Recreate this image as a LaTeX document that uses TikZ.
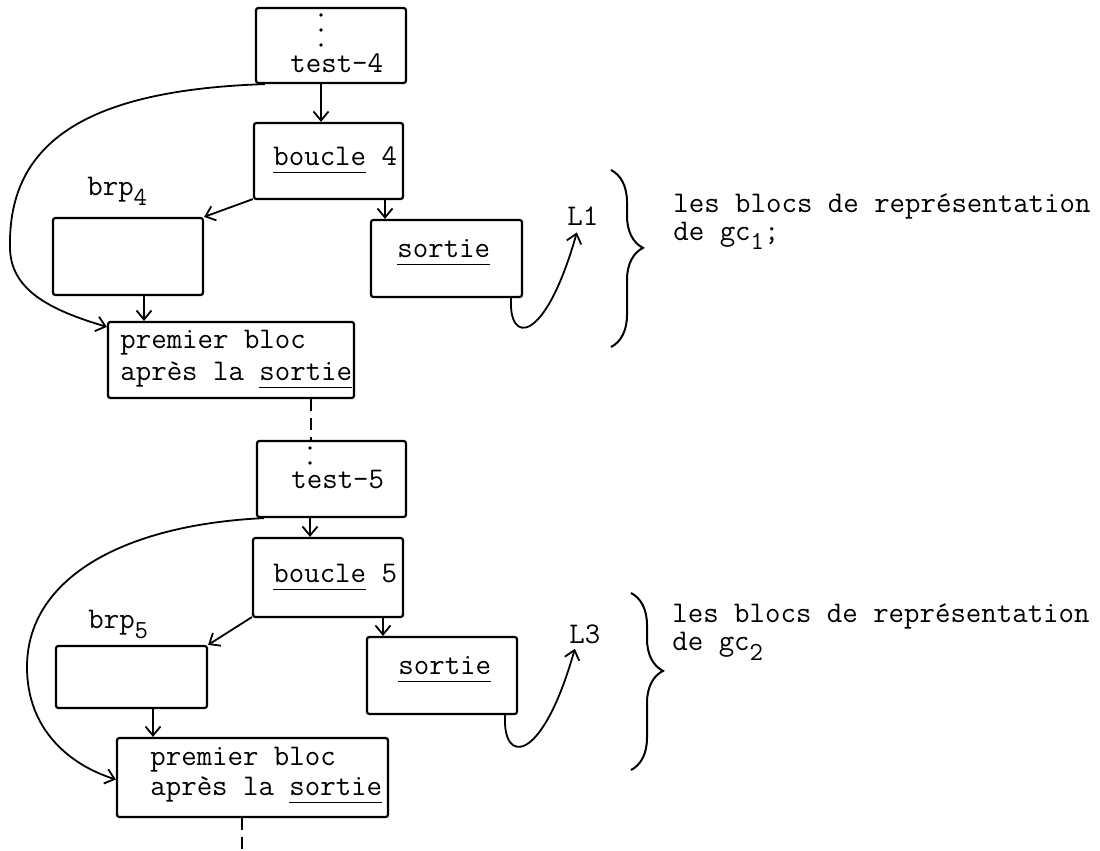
\documentclass[tikz,border=0pt]{standalone}
\usepackage{fontspec}
\usetikzlibrary{arrows.meta,decorations.pathreplacing}
\newcommand\myul[1]{\setbox0\hbox{#1}\rlap{\rule[-4pt]{\wd0}{0.7pt}}\box0{}}
\newcommand\mysub[1]{\raisebox{-5pt}{\fontsize{13}{13}\selectfont #1}}
\begin{document}
\begin{tikzpicture}[x=0.5pt,y=-0.5pt,
  blk/.style={draw,line width=1.1pt,rounded corners=1.2pt,inner sep=0pt},
  txt/.style={anchor=base west,inner sep=0pt,font=\ttfamily\fontsize{15}{17}\selectfont},
  note/.style={anchor=base west,inner sep=0pt,align=left,font=\ttfamily\fontsize{15}{14}\selectfont},
  arr/.style={line width=0.9pt,-{Straight Barb[length=4.5pt,width=7.5pt]}},
  dsh/.style={line width=1.1pt,dash pattern=on 6pt off 3.5pt},
  brc/.style={line width=1pt,decorate,decoration={brace,amplitude=16pt,aspect=0.44}}]
\useasboundingbox (0,0) rectangle (1100,851);

% ---------- first group ----------
\node[blk,minimum width=75pt,minimum height=37.5pt] (t4) at (331,45.5) {};
\node[blk,minimum width=74.5pt,minimum height=38pt] (b4) at (328.5,161) {};
\node[blk,minimum width=75pt,minimum height=38.5pt] (r4) at (128,256.5) {};
\node[blk,minimum width=75.5pt,minimum height=38.5pt] (s4) at (446.5,258.5) {};
\node[blk,minimum width=123pt,minimum height=38pt] (p4) at (231,360) {};

\fill (321,15) circle (0.9pt) (321,30) circle (0.9pt) (321,45) circle (0.9pt);
\node[txt] (t4txt) at (290,72) {test-4};
\node[txt] (b4txt) at (273,165) {\myul{boucle} 4};
\node[txt] (r4txt) at (87,195) {brp\mysub{4}};
\node[txt] (s4txt) at (397,257) {\myul{sortie}};
\node[txt] (L1) at (567,225) {L1};
\node[txt] (p4a) at (120,348) {premier bloc};
\node[txt] (p4b) at (120,380) {après la \myul{sortie}};
\node[note] (g1) at (673,240) {les blocs de représentation\\de gc\mysub{1};};

\draw[arr] ([xshift=-5pt]t4.south) -- ([xshift=-5pt]t4.south |- b4.north);
\draw[arr] ([yshift=0.5pt]b4.south west) -- (r4.north east);
\draw[arr] ([xshift=28.25pt]b4.south) -- ([xshift=28.25pt]b4.south |- s4.north);
\draw[arr] ([xshift=8pt]r4.south) -- ([xshift=8pt]r4.south |- p4.north);
\draw[arr] ([xshift=5pt]t4.south west) .. controls (90,90) and (8,140) .. (10,247)
  .. controls (10,290) and (50,310) .. ([yshift=-3pt]p4.north west);
\draw[arr] ([xshift=-6pt]s4.south east) .. controls (508,345) and (545,345) .. ([xshift=-3pt,yshift=-3.5pt]L1.south);
\draw[brc] (611,170) -- (611,347);

% ---------- second group ----------
\node[blk,minimum width=74.5pt,minimum height=38pt] (t5) at (331.5,479) {};
\node[blk,minimum width=75pt,minimum height=39.5pt] (b5) at (328,577.5) {};
\node[blk,minimum width=75.5pt,minimum height=31pt] (r5) at (131.5,677) {};
\node[blk,minimum width=75pt,minimum height=38.5pt] (s5) at (442,675.5) {};
\node[blk,minimum width=135.5pt,minimum height=39.5pt] (p5) at (252.5,777.5) {};

\draw[dsh] ([xshift=40pt]p4.south) -- ([xshift=40pt]p4.south |- t5.north);
\fill (310,448) circle (0.9pt) (310,463) circle (0.9pt);
\node[txt] (t5txt) at (291,488) {test-5};
\node[txt] (b5txt) at (273,582) {\myul{boucle} 5};
\node[txt] (r5txt) at (88,628) {brp\mysub{5}};
\node[txt] (s5txt) at (398,674) {\myul{sortie}};
\node[txt] (L3) at (569,643) {L3};
\node[txt] (p5a) at (150,765) {premier bloc};
\node[txt] (p5b) at (150,795) {après la \myul{sortie}};
\node[note] (g2) at (672,650) {les blocs de représentation\\de gc\mysub{2}};

\draw[arr] ([xshift=-10.75pt]t5.south) -- ([xshift=-10.75pt]t5.south |- b5.north);
\draw[arr] ([yshift=0.5pt]b5.south west) -- (r5.north east);
\draw[arr] ([xshift=27.5pt]b5.south) -- ([xshift=27.5pt]b5.south |- s5.north);
\draw[arr] ([xshift=10.75pt]r5.south) -- ([xshift=10.75pt]r5.south |- p5.north);
\draw[arr] ([xshift=4pt]t5.south west) .. controls (120,525) and (27,580) .. (27,667)
  .. controls (27,730) and (70,765) .. ([yshift=-1pt]p5.west);
\draw[arr] ([xshift=-6.5pt]s5.south east) .. controls (502,765) and (542,765) .. ([xshift=-5pt,yshift=-2.5pt]L3.south);
\draw[brc] (631,593) -- (631,770);

\coordinate (end5) at (242,851);
\draw[dsh] ([xshift=-5.25pt]p5.south) -- (end5);
\end{tikzpicture}
\end{document}
